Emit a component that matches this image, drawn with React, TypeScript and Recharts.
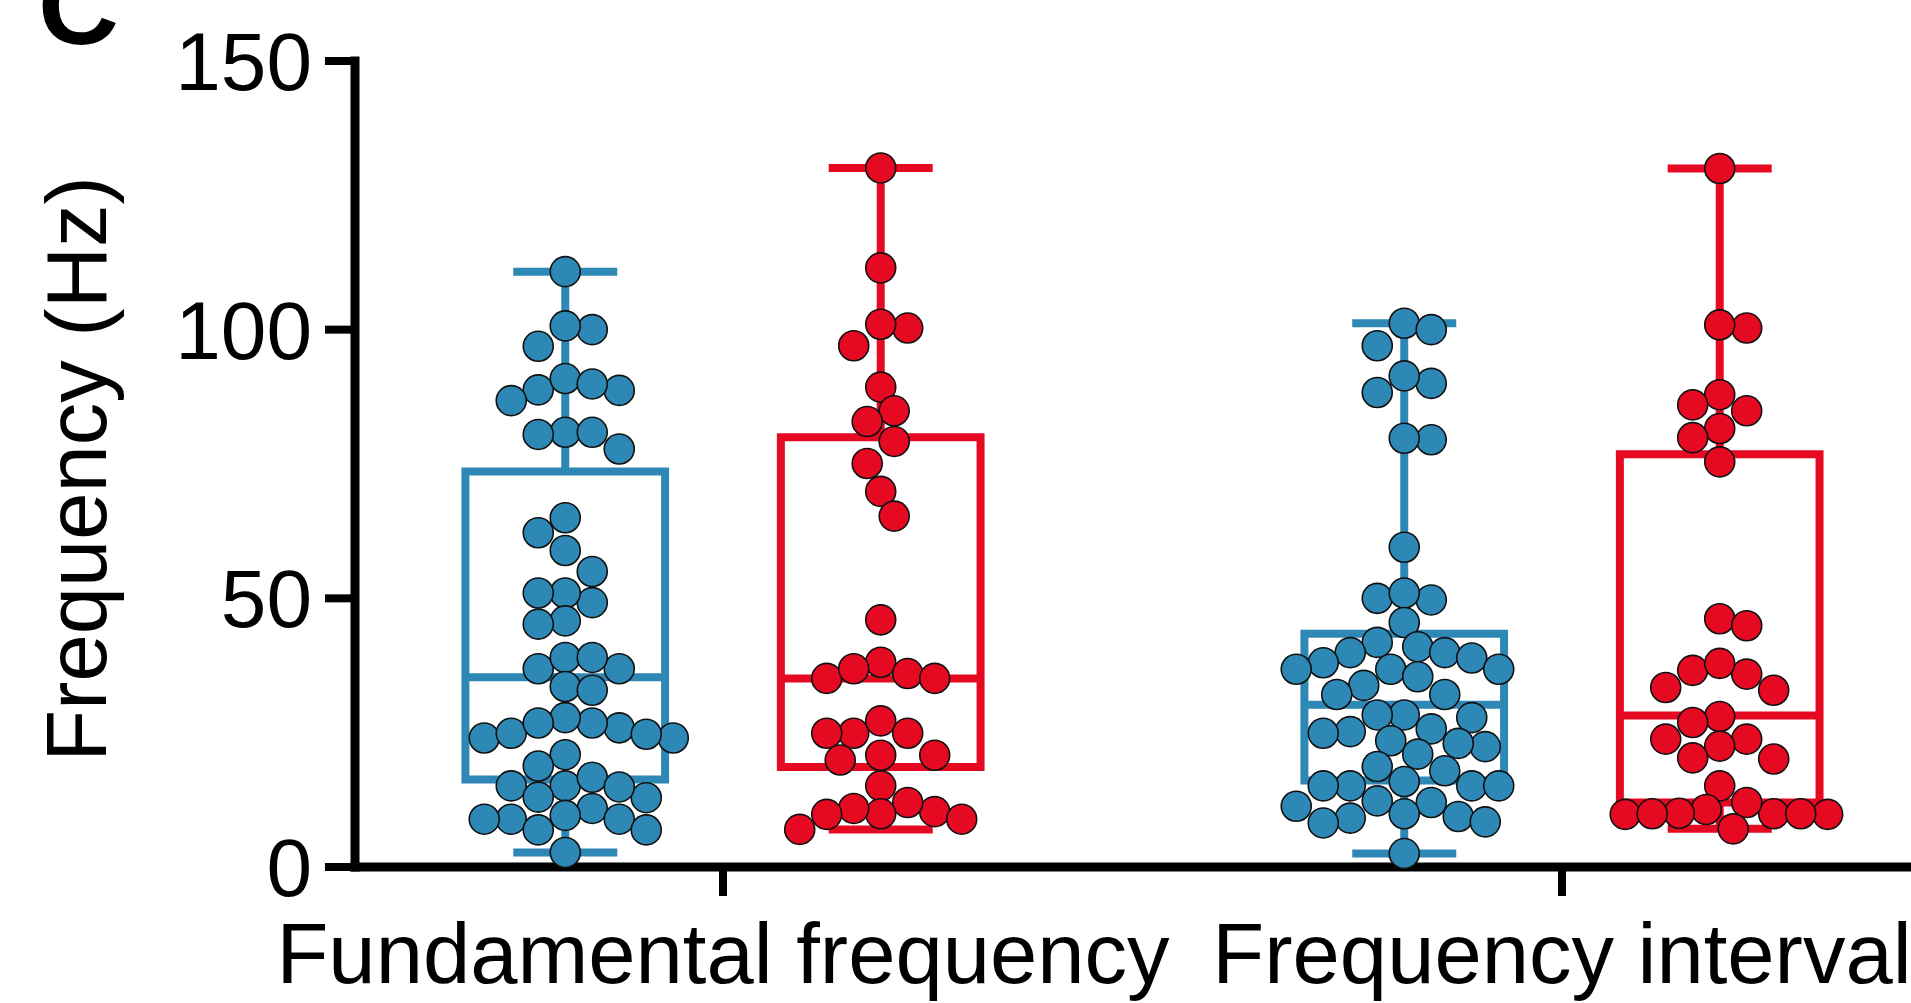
import React from 'react';
import { ComposedChart, Scatter, XAxis, YAxis, ReferenceArea, ReferenceLine } from 'recharts';

const categories = ['Fundamental frequency', 'Frequency interval'];
const yTicks = [0, 50, 100, 150];

// individual recordings (Hz)
const fundamentalBlue = [
  110.8, 100.0, 100.7, 96.9, 88.7, 88.8, 86.8, 90.9, 89.9, 80.9, 80.9, 80.5, 77.8,
  65.0, 62.2, 58.9, 55.0, 49.2, 51.0, 51.0, 45.8, 45.2, 36.9, 36.9, 39.0, 39.0,
  33.6, 32.9, 25.9, 26.8, 24.0, 27.8, 24.9, 24.0, 24.7, 26.8, 20.9, 18.8, 15.1,
  15.1, 16.7, 13.0, 12.9, 10.9, 14.9, 8.9, 8.9, 9.6, 6.9, 6.9, 8.9, 2.7,
];
const fundamentalRed = [
  130.1, 111.5, 100.3, 101.0, 97.0, 89.3, 84.9, 82.9, 79.2, 75.1, 69.9, 65.3, 46.0,
  38.1, 36.0, 35.1, 35.1, 36.9, 24.9, 27.2, 24.9, 24.9, 19.9, 20.8, 20.8, 15.1,
  10.3, 12.0, 9.9, 10.9, 7.0, 9.8, 8.9,
];
const intervalBlue = [
  101.2, 100.0, 97.0, 90.0, 88.3, 91.4, 79.5, 79.8, 59.5, 50.0, 49.7, 51.0, 45.5,
  41.8, 41.0, 39.9, 39.9, 38.9, 38.0, 36.8, 36.8, 36.8, 35.4, 33.8, 32.1, 32.1,
  28.3, 27.8, 28.3, 25.7, 25.2, 24.9, 22.4, 23.5, 23.0, 21.0, 18.7, 17.9, 15.1,
  15.1, 15.1, 15.1, 15.9, 12.3, 11.3, 12.0, 9.4, 9.1, 8.4, 8.2, 9.9, 2.5,
];
const intervalRed = [
  130.0, 100.3, 100.9, 87.9, 84.9, 86.0, 81.6, 79.9, 75.4, 46.2, 44.9, 36.6, 35.9,
  37.9, 33.4, 32.9, 28.0, 26.9, 23.8, 23.8, 22.5, 20.3, 20.1, 15.1, 9.9, 12.0,
  9.8, 10.7, 7.1, 10.0, 9.8, 9.9, 9.9,
];

// box statistics per category: [fundamental, interval]
const q1Blue = [16.3, 16.1];
const medianBlue = [35.3, 30.2];
const q3Blue = [73.6, 43.4];
const q1Red = [18.6, 12.0];
const medianRed = [35.1, 28.2];
const q3Red = [80.0, 76.8];

const BLUE = '#2E88B5';
const RED = '#E50A22';
const FONT = '"Liberation Sans", Arial, Helvetica, sans-serif';

const W = 1911;
const H = 1003;
const MARGIN = { top: 61, right: 0, bottom: 0, left: 0 };
const Y_AXIS_W = 355;
const X_AXIS_H = 136;
const X_DOMAIN: [number, number] = [0.5614, 2.416];
const PLOT_W = W - Y_AXIS_W;
const PLOT_H = H - MARGIN.top - X_AXIS_H;
const PX_X = PLOT_W / (X_DOMAIN[1] - X_DOMAIN[0]);
const PX_Y = PLOT_H / 150;

const PAIR_OFFSET = 0.188;
const BOX_HALF = 0.119;
const CAP_HALF = 0.062;
const DOT_R = 15;

// simple beeswarm on a half-step grid, in pixel space
function swarm(values: number[], center: number) {
  const minD = 27;
  const grid = 13.5;
  const placed: { x: number; y: number }[] = [];
  const out: { x: number; y: number }[] = new Array(values.length);
  let flip = 1;
  const order = values.map((_, i) => i).sort((a, b) => values[b] - values[a]);
  for (const i of order) {
    const y = values[i] * PX_Y;
    let dx = 0;
    for (let k = 0; k < 40; k++) {
      const cands = k === 0 ? [0] : [flip * k * grid, -flip * k * grid];
      const ok = cands.find((c) => placed.every((p) => Math.hypot(p.x - c, p.y - y) >= minD));
      if (ok !== undefined) {
        dx = ok;
        if (k > 0) flip = -flip;
        break;
      }
    }
    placed.push({ x: dx, y });
    out[i] = { x: center + dx / PX_X, y: values[i] };
  }
  return out;
}

const boxes = [
  { center: 1 - PAIR_OFFSET, values: fundamentalBlue, q1: q1Blue[0], med: medianBlue[0], q3: q3Blue[0], color: BLUE },
  { center: 1 + PAIR_OFFSET, values: fundamentalRed, q1: q1Red[0], med: medianRed[0], q3: q3Red[0], color: RED },
  { center: 2 - PAIR_OFFSET, values: intervalBlue, q1: q1Blue[1], med: medianBlue[1], q3: q3Blue[1], color: BLUE },
  { center: 2 + PAIR_OFFSET, values: intervalRed, q1: q1Red[1], med: medianRed[1], q3: q3Red[1], color: RED },
].map((b) => ({
  ...b,
  min: Math.min(...b.values),
  max: Math.max(...b.values),
  points: swarm(b.values, b.center),
}));

const App: React.FC = () => {
  return (
    <div style={{ position: 'absolute', left: 0, top: 0, width: W, height: H, background: '#fff' }}>
      <ComposedChart width={W} height={H} margin={MARGIN}>
        <XAxis
          type="number"
          dataKey="x"
          domain={X_DOMAIN}
          ticks={[1, 2]}
          interval={0}
          allowDataOverflow
          tickFormatter={(v: number) => categories[v - 1]}
          height={X_AXIS_H}
          tickSize={29}
          tickMargin={27}
          axisLine={{ stroke: '#000', strokeWidth: 9, strokeLinecap: 'square' }}
          tickLine={{ stroke: '#000', strokeWidth: 8 }}
          tick={{ fill: '#000', fontSize: 85, fontFamily: FONT }}
        />
        <YAxis
          type="number"
          dataKey="y"
          domain={[0, 150]}
          ticks={yTicks}
          interval={0}
          width={Y_AXIS_W}
          tickSize={30}
          tickMargin={13}
          axisLine={{ stroke: '#000', strokeWidth: 9, strokeLinecap: 'square' }}
          tickLine={{ stroke: '#000', strokeWidth: 8 }}
          tick={{ fill: '#000', fontSize: 82, fontFamily: FONT }}
        />
        {boxes.map((b, i) => (
          <ReferenceArea
            key={`box${i}`}
            x1={b.center - BOX_HALF}
            x2={b.center + BOX_HALF}
            y1={b.q1}
            y2={b.q3}
            fill="none"
            fillOpacity={0}
            stroke={b.color}
            strokeWidth={8}
          />
        ))}
        {boxes.flatMap((b, i) => [
          <ReferenceLine key={`med${i}`} segment={[{ x: b.center - BOX_HALF, y: b.med }, { x: b.center + BOX_HALF, y: b.med }]} stroke={b.color} strokeWidth={8} />,
          <ReferenceLine key={`wt${i}`} segment={[{ x: b.center, y: b.q3 }, { x: b.center, y: b.max }]} stroke={b.color} strokeWidth={8} />,
          <ReferenceLine key={`wb${i}`} segment={[{ x: b.center, y: b.min }, { x: b.center, y: b.q1 }]} stroke={b.color} strokeWidth={8} />,
          <ReferenceLine key={`ct${i}`} segment={[{ x: b.center - CAP_HALF, y: b.max }, { x: b.center + CAP_HALF, y: b.max }]} stroke={b.color} strokeWidth={8} />,
          <ReferenceLine key={`cb${i}`} segment={[{ x: b.center - CAP_HALF, y: b.min }, { x: b.center + CAP_HALF, y: b.min }]} stroke={b.color} strokeWidth={8} />,
        ])}
        {boxes.map((b, i) => (
          <Scatter
            key={`pts${i}`}
            data={b.points}
            isAnimationActive={false}
            shape={(p: any) => (
              <circle cx={p.cx} cy={p.cy} r={DOT_R} fill={b.color} stroke="#111" strokeWidth={1.6} />
            )}
          />
        ))}
      </ComposedChart>
      <svg width={W} height={H} style={{ position: 'absolute', left: 0, top: 0, pointerEvents: 'none' }}>
        <text x={38} y={44} fontSize={112} fontWeight="bold" fontFamily={FONT} fill="#000">C</text>
        <text
          x={106}
          y={469}
          transform="rotate(-90 106 469)"
          textAnchor="middle"
          fontSize={85}
          fontFamily={FONT}
          fill="#000"
        >
          Frequency (Hz)
        </text>
      </svg>
    </div>
  );
};

export default App;
